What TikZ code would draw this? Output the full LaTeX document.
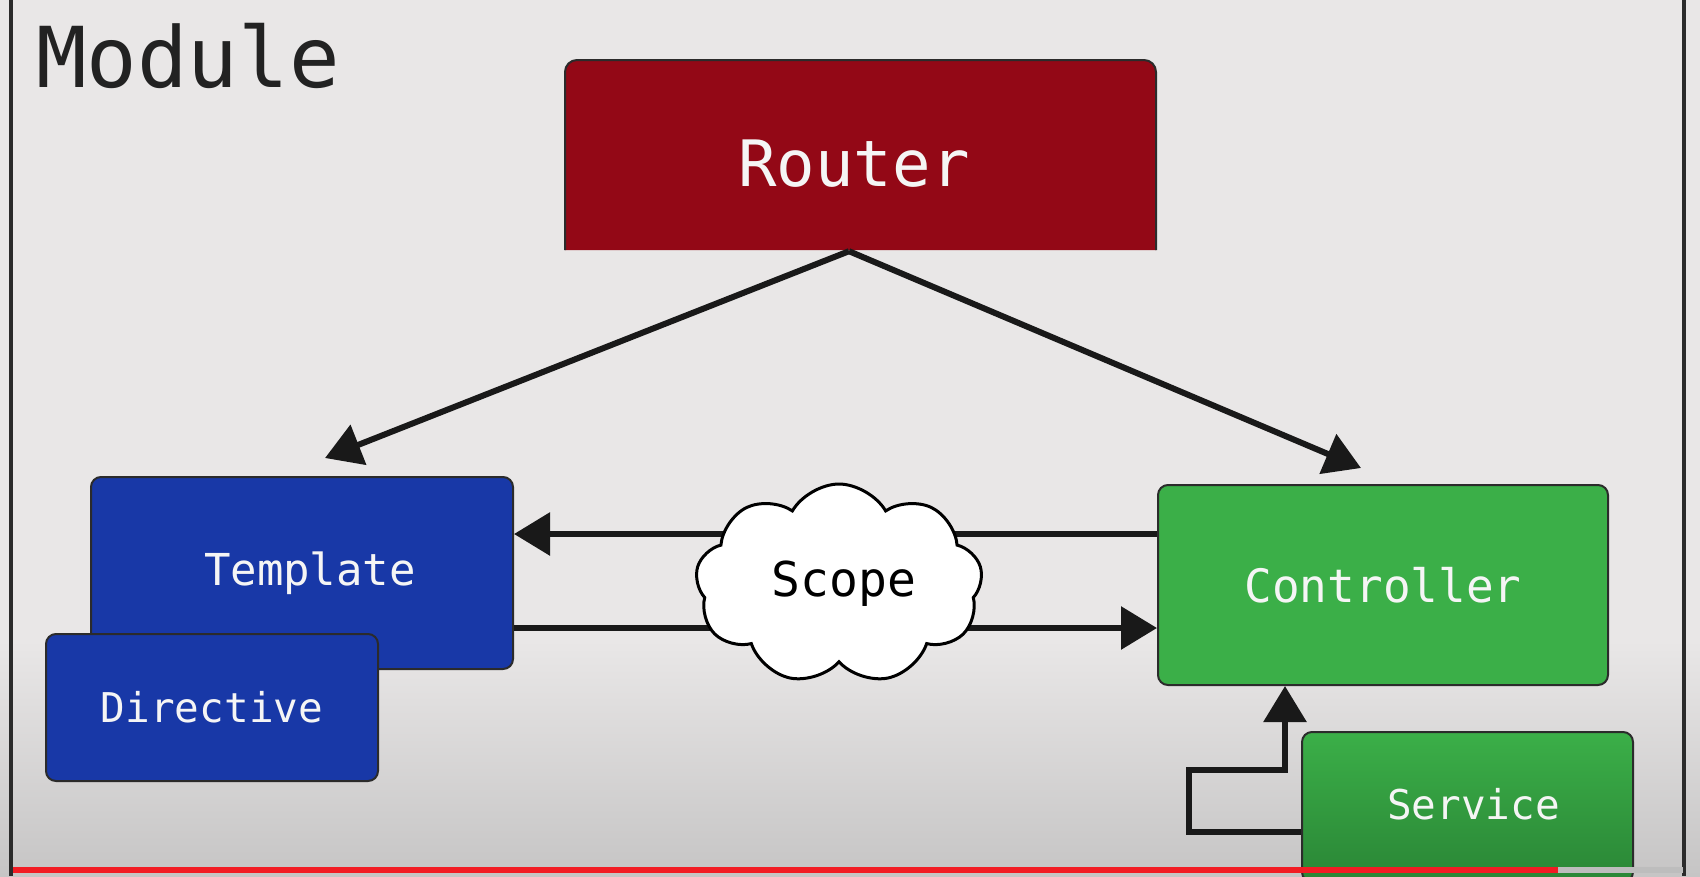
\documentclass[tikz,border=0pt]{standalone}
\usepackage{fontspec}
\newfontfamily\monof{DejaVu Sans Mono}
\usetikzlibrary{arrows.meta,shapes.symbols,calc}
\definecolor{bgpaper}{HTML}{E9E7E7}
\definecolor{bgdark}{HTML}{C6C5C5}
\definecolor{rred}{HTML}{930816}
\definecolor{tblue}{HTML}{1838A7}
\definecolor{cgreen}{HTML}{3BAF48}
\definecolor{cgreendark}{HTML}{2A8636}
\definecolor{boxline}{HTML}{2B2B2B}
\definecolor{textdark}{HTML}{222222}
\definecolor{ytred}{HTML}{F21C24}
\definecolor{ytgray}{HTML}{BDBDBD}
\tikzset{
  box/.style={draw=boxline, line width=2pt, rounded corners=10pt, text=white!96!black,
    font=\monof\fontsize{44}{44}\selectfont, inner sep=0pt},
  conn/.style={draw=black!90, line width=6pt, -{Triangle[length=36pt,width=42pt]}},
}
\begin{document}
\begin{tikzpicture}[x=1pt,y=-1pt]
\useasboundingbox (0,0) rectangle (1700,876);
\clip (0,0) rectangle (1700,876);
\fill[bgpaper] (0,0) rectangle (1700,876);
\shade[top color=bgpaper, bottom color=bgdark] (0,640) rectangle (1700,876);
% frame lines
\draw[line width=4pt, boxline] (11,0) -- (11,876);
\draw[line width=4pt, boxline] (1684,0) -- (1684,876);
% title
\node[anchor=base west, inner sep=0pt, text=textdark, font=\monof\fontsize{84}{84}\selectfont] (title) at (36,87) {Module};
% router
\fill[rred] (565,250) -- (565,72) arc[start angle=180,end angle=270,radius=12] -- (1144,60) arc[start angle=270,end angle=360,radius=12] -- (1156,250) -- cycle;
\draw[boxline, line width=2pt] (565,250) -- (565,72) arc[start angle=180,end angle=270,radius=12] -- (1144,60) arc[start angle=270,end angle=360,radius=12] -- (1156,250);
\node[inner sep=0pt, minimum width=591, minimum height=174, text=white!96!black, font=\monof\fontsize{64}{64}\selectfont] (router) at (854,164) {Router};
% boxes
\node[box, fill=tblue, minimum width=422, minimum height=192] (template) at (302,573) {\hspace*{16pt}\raisebox{2pt}{Template}};
\node[box, fill=tblue, minimum width=332, minimum height=147, font=\monof\fontsize{41}{41}\selectfont] (directive) at (212,707.5) {Directive};
\node[box, fill=cgreen, minimum width=450, minimum height=200, font=\monof\fontsize{46}{46}\selectfont] (controller) at (1383,585) {Controller};
\node[box, top color=cgreen, bottom color=cgreendark, minimum width=331, minimum height=150, font=\monof\fontsize{41}{41}\selectfont] (service) at (1467.5,807) {\hspace*{12pt}\raisebox{6pt}{Service}};
% router arrows
\coordinate (tipT) at (325,458);
\coordinate (tipC) at (1361,468);
\draw[conn] ([xshift=-5pt]router.south) -- (tipT);
\draw[conn] ([xshift=-5pt]router.south) -- (tipC);
% scope arrows
\draw[conn] ([yshift=51pt]controller.west) -- ([yshift=39pt]template.east);
\draw[conn] ([yshift=-55pt]template.east) -- ([yshift=-43pt]controller.west);
% service arrow
\draw[conn] ([yshift=-25pt]service.west) -| (1189,770) -| ([xshift=-98pt]controller.south);
% scope cloud
\node[cloud, cloud puffs=9, cloud puff arc=120, aspect=1.45, draw=black, fill=white, line width=3pt,
  minimum width=287, minimum height=200, inner sep=0pt, text=black, font=\monof\fontsize{48}{48}\selectfont] (scope) at (839,584) {\hspace*{10pt}Scope};
% progress bar
\fill[ytred] (13,867) rectangle (1558,873);
\fill[ytgray] (1558,867) rectangle (1683,873);
\end{tikzpicture}
\end{document}
